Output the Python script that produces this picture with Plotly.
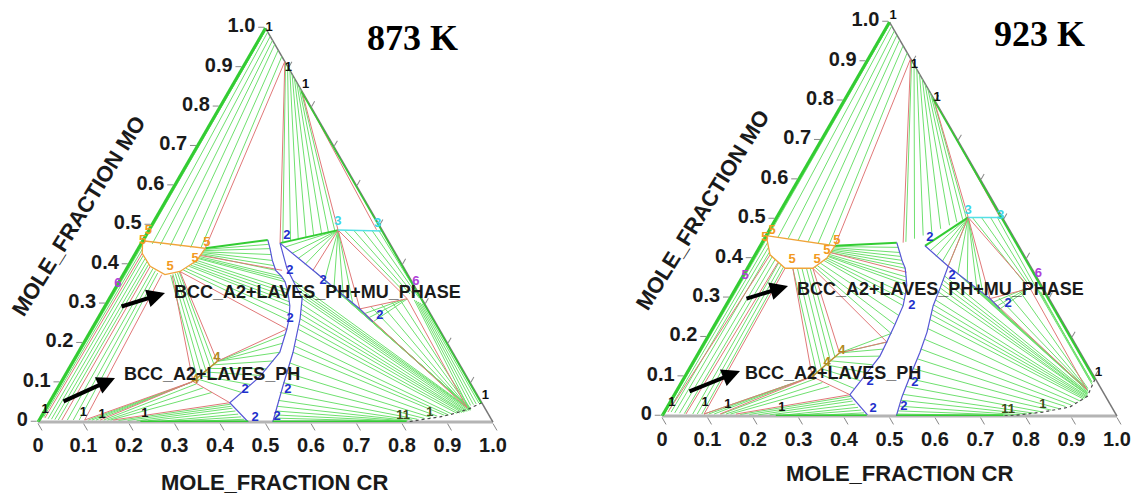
import plotly.graph_objects as go

# ---------------- axis ticks ----------------
MO_TICKS = [0.0, 0.1, 0.2, 0.3, 0.4, 0.5, 0.6, 0.7, 0.8, 0.9, 1.0]
MO_TICK_TEXT = ['0', '0.1', '0.2', '0.3', '0.4', '0.5', '0.6', '0.7', '0.8', '0.9', '1.0']
CR_TICKS = [0.0, 0.1, 0.2, 0.3, 0.4, 0.5, 0.6, 0.7, 0.8, 0.9, 1.0]
CR_TICK_TEXT = ['0', '0.1', '0.2', '0.3', '0.4', '0.5', '0.6', '0.7', '0.8', '0.9', '1.0']

# ---------------- 873 K : segments (cr1, mo1, cr2, mo2) ----------------
T873_EDGE = [(0.0, 0.0, 0.0, 1.0), (0.16, 0.84, 0.951, 0.049),
             (0.225, 0.0, 0.462, 0.0), (0.516, 0.0, 0.81, 0.0)]
T873_THICK = [(0.147, 0.441, 0.274, 0.462), (0.305, 0.454, 0.416, 0.487)]
T873_TIE_APEX_MU = [(0.003, 0.997, 0.004, 0.455), (0.010, 0.990, 0.025, 0.452),
                    (0.021, 0.979, 0.044, 0.449), (0.031, 0.969, 0.067, 0.447),
                    (0.041, 0.959, 0.090, 0.445), (0.056, 0.944, 0.114, 0.443),
                    (0.072, 0.928, 0.137, 0.442)]
T873_TIE_B_SIG = [(0.088, 0.912, 0.310, 0.456), (0.097, 0.903, 0.325, 0.460),
                  (0.107, 0.893, 0.340, 0.464), (0.117, 0.883, 0.355, 0.468),
                  (0.127, 0.873, 0.370, 0.472), (0.137, 0.863, 0.385, 0.477),
                  (0.147, 0.853, 0.398, 0.481), (0.155, 0.845, 0.410, 0.485)]
T873_TIE_MU_SIG = [(0.147, 0.438, 0.282, 0.451), (0.147, 0.435, 0.290, 0.440),
                   (0.146, 0.432, 0.300, 0.425), (0.146, 0.430, 0.310, 0.410),
                   (0.146, 0.427, 0.320, 0.397), (0.145, 0.425, 0.330, 0.385),
                   (0.145, 0.420, 0.350, 0.370), (0.144, 0.417, 0.358, 0.363),
                   (0.144, 0.415, 0.365, 0.356), (0.144, 0.410, 0.380, 0.336),
                   (0.142, 0.406, 0.387, 0.326), (0.140, 0.402, 0.393, 0.316),
                   (0.137, 0.398, 0.400, 0.305), (0.135, 0.395, 0.406, 0.295),
                   (0.130, 0.390, 0.415, 0.275), (0.126, 0.386, 0.422, 0.258)]
T873_TIE_CHI_DIAG = [(0.416, 0.487, 0.321, 0.444), (0.416, 0.487, 0.344, 0.428),
                     (0.416, 0.487, 0.364, 0.415), (0.416, 0.487, 0.387, 0.400),
                     (0.416, 0.487, 0.450, 0.360), (0.416, 0.487, 0.480, 0.341),
                     (0.416, 0.487, 0.510, 0.322), (0.416, 0.487, 0.540, 0.303)]
T873_TIE_CHI_EDGE = [(0.430, 0.487, 0.640, 0.330), (0.450, 0.487, 0.655, 0.325),
                     (0.470, 0.487, 0.668, 0.320), (0.490, 0.487, 0.680, 0.315),
                     (0.505, 0.487, 0.690, 0.308)]
T873_TIE_DIAG_P6 = [(0.580, 0.275, 0.645, 0.310), (0.595, 0.265, 0.650, 0.311),
                    (0.609, 0.254, 0.655, 0.312)]
T873_TIE_EDGE_BAND = [(0.672, 0.310, 0.925, 0.040), (0.677, 0.308, 0.930, 0.042),
                      (0.683, 0.305, 0.935, 0.044), (0.688, 0.303, 0.940, 0.046),
                      (0.694, 0.300, 0.945, 0.048)]
T873_TIE_D1P6_CR = [(0.585, 0.293, 0.926, 0.037), (0.605, 0.299, 0.927, 0.037),
                    (0.625, 0.305, 0.928, 0.038), (0.642, 0.309, 0.929, 0.038)]
T873_TIE_SIG_CR = [(0.540, 0.302, 0.928, 0.036), (0.525, 0.312, 0.929, 0.036),
                   (0.510, 0.322, 0.930, 0.036), (0.495, 0.331, 0.931, 0.035),
                   (0.480, 0.341, 0.932, 0.035), (0.465, 0.351, 0.933, 0.034),
                   (0.450, 0.360, 0.934, 0.034), (0.435, 0.370, 0.934, 0.033),
                   (0.420, 0.380, 0.935, 0.033), (0.380, 0.360, 0.935, 0.032),
                   (0.390, 0.348, 0.935, 0.031), (0.400, 0.337, 0.935, 0.030),
                   (0.412, 0.325, 0.933, 0.029), (0.424, 0.313, 0.930, 0.028),
                   (0.430, 0.299, 0.928, 0.027), (0.435, 0.286, 0.925, 0.026),
                   (0.440, 0.274, 0.923, 0.025), (0.445, 0.262, 0.920, 0.024),
                   (0.450, 0.248, 0.915, 0.023), (0.455, 0.235, 0.910, 0.022),
                   (0.462, 0.210, 0.900, 0.020), (0.467, 0.193, 0.893, 0.018),
                   (0.472, 0.177, 0.885, 0.017), (0.478, 0.150, 0.870, 0.015),
                   (0.484, 0.125, 0.857, 0.012), (0.489, 0.100, 0.845, 0.009),
                   (0.494, 0.075, 0.830, 0.007), (0.500, 0.055, 0.820, 0.005),
                   (0.505, 0.040, 0.810, 0.004), (0.509, 0.028, 0.805, 0.003),
                   (0.512, 0.018, 0.800, 0.002), (0.514, 0.010, 0.800, 0.001)]
T873_TIE_MU_FE = [(0.005, 0.450, 0.003, 0.015), (0.010, 0.440, 0.006, 0.012),
                  (0.020, 0.423, 0.018, 0.008), (0.028, 0.415, 0.026, 0.007),
                  (0.036, 0.407, 0.034, 0.006), (0.043, 0.400, 0.042, 0.005),
                  (0.058, 0.390, 0.062, 0.005), (0.066, 0.384, 0.075, 0.005),
                  (0.074, 0.378, 0.088, 0.005)]
T873_TIE_MU_LAV = [(0.105, 0.373, 0.294, 0.112), (0.109, 0.375, 0.299, 0.121),
                   (0.113, 0.377, 0.304, 0.130), (0.117, 0.379, 0.309, 0.139),
                   (0.120, 0.381, 0.313, 0.147)]
T873_TIE_LAV_SIG = [(0.317, 0.154, 0.432, 0.222), (0.317, 0.154, 0.438, 0.200),
                    (0.317, 0.154, 0.443, 0.177), (0.312, 0.145, 0.440, 0.155),
                    (0.307, 0.136, 0.436, 0.135), (0.302, 0.127, 0.432, 0.118),
                    (0.297, 0.118, 0.420, 0.095), (0.293, 0.110, 0.410, 0.075)]
T873_TIE_FE_LAV = [(0.108, 0.005, 0.287, 0.101), (0.116, 0.005, 0.287, 0.101),
                   (0.125, 0.005, 0.288, 0.102), (0.142, 0.005, 0.300, 0.097),
                   (0.150, 0.005, 0.320, 0.087), (0.157, 0.005, 0.345, 0.075)]
T873_TIE_FE_SIG = [(0.175, 0.004, 0.400, 0.045), (0.195, 0.004, 0.405, 0.040),
                   (0.215, 0.003, 0.410, 0.035), (0.240, 0.003, 0.420, 0.028),
                   (0.270, 0.002, 0.430, 0.020), (0.300, 0.002, 0.440, 0.013),
                   (0.330, 0.001, 0.450, 0.007), (0.360, 0.001, 0.458, 0.002)]
T873_RED = [(0.085, 0.915, 0.147, 0.441), (0.085, 0.915, 0.305, 0.454),
            (0.160, 0.840, 0.416, 0.487), (0.160, 0.840, 0.500, 0.488),
            (0.416, 0.487, 0.412, 0.385), (0.416, 0.487, 0.564, 0.287),
            (0.416, 0.487, 0.655, 0.313), (0.564, 0.287, 0.655, 0.313),
            (0.564, 0.287, 0.925, 0.036), (0.655, 0.313, 0.925, 0.036),
            (0.144, 0.423, 0.344, 0.385), (0.015, 0.428, 0.010, 0.010),
            (0.049, 0.395, 0.050, 0.005), (0.085, 0.374, 0.100, 0.005),
            (0.109, 0.372, 0.289, 0.103), (0.100, 0.005, 0.289, 0.103),
            (0.134, 0.005, 0.289, 0.103), (0.163, 0.005, 0.397, 0.049),
            (0.289, 0.103, 0.397, 0.049), (0.121, 0.382, 0.317, 0.154),
            (0.121, 0.382, 0.429, 0.236), (0.317, 0.154, 0.429, 0.236)]
T873_LAVES = [(0.317, 0.154, 0.289, 0.103)]
# polylines (cr, mo)
T873_MU = [(0.0, 0.46), (0.147, 0.441), (0.144, 0.41), (0.121, 0.382), (0.092, 0.374),
           (0.049, 0.395), (0.015, 0.428), (0.0, 0.46)]
T873_SIG_LEFT = [(0.274, 0.462), (0.29, 0.44), (0.31, 0.41), (0.33, 0.385), (0.35, 0.37),
                 (0.365, 0.356), (0.38, 0.336), (0.393, 0.316), (0.406, 0.295), (0.415, 0.275),
                 (0.422, 0.258), (0.429, 0.236), (0.443, 0.177), (0.43, 0.115), (0.397, 0.049),
                 (0.462, 0.0)]
T873_SIG_RIGHT = [(0.305, 0.454), (0.352, 0.39), (0.424, 0.313), (0.445, 0.262),
                  (0.472, 0.177), (0.493, 0.09), (0.516, 0.0)]
T873_DIAG = [(0.305, 0.454), (0.412, 0.385), (0.564, 0.287), (0.609, 0.254)]
T873_CHI = [(0.416, 0.487), (0.515, 0.485)]
T873_CRBCC = [(0.951, 0.049), (0.93, 0.033), (0.90, 0.02), (0.877, 0.013), (0.84, 0.006), (0.81, 0.0)]
# labels (cr, mo, text, colour-key, position)
T873_LABELS = [
    (0.0, 1.0, '1', 'k', 'middle right'), (0.085, 0.915, '1', 'k', 'bottom right'),
    (0.16, 0.84, '1', 'k', 'top right'), (0.0, 0.031, '1', 'k', 'middle center'),
    (0.088, 0.023, '1', 'k', 'middle center'), (0.132, 0.018, '1', 'k', 'middle center'),
    (0.225, 0.02, '1', 'k', 'middle center'), (0.795, 0.015, '11', 'd', 'middle center'),
    (0.85, 0.023, '1', 'd', 'middle center'), (0.951, 0.049, '1', 'k', 'top right'),
    (0.0, 0.485, '5', 'o', 'middle center'), (0.0, 0.46, '5', 'o', 'middle center'),
    (0.144, 0.454, '5', 'o', 'middle center'), (0.093, 0.395, '5', 'o', 'middle center'),
    (0.138, 0.415, '5', 'o', 'middle center'),
    (0.311, 0.472, '2', 'b', 'middle center'), (0.361, 0.385, '2', 'b', 'middle center'),
    (0.447, 0.359, '2', 'b', 'middle center'), (0.423, 0.262, '2', 'b', 'middle center'),
    (0.414, 0.082, '2', 'b', 'middle center'), (0.508, 0.082, '2', 'b', 'middle center'),
    (0.472, 0.010, '2', 'b', 'middle center'), (0.519, 0.013, '2', 'b', 'middle center'),
    (0.617, 0.269, '2', 'b', 'middle center'),
    (0.405, 0.508, '3', 'c', 'middle center'), (0.495, 0.503, '3', 'c', 'middle center'),
    (0.311, 0.164, '4', 'y', 'middle center'), (0.292, 0.108, '4', 'y', 'middle center'),
    (0.0, 0.351, '6', 'p', 'middle center'), (0.645, 0.355, '6', 'p', 'middle right'),
]

# ---------------- 923 K ----------------
T923_EDGE = [(0.0, 0.0, 0.0, 1.0), (0.193, 0.807, 0.905, 0.093),
             (0.25, 0.0, 0.45, 0.0), (0.515, 0.0, 0.75, 0.0)]
T923_THICK = [(0.164, 0.432, 0.296, 0.440), (0.362, 0.432, 0.421, 0.504)]
T923_TIE_APEX_MU = [(0.003, 0.997, 0.005, 0.457), (0.010, 0.990, 0.028, 0.453),
                    (0.022, 0.978, 0.052, 0.450), (0.033, 0.967, 0.076, 0.446),
                    (0.045, 0.955, 0.100, 0.442), (0.060, 0.940, 0.124, 0.438),
                    (0.078, 0.922, 0.150, 0.434)]
T923_TIE_B_SIG = [(0.097, 0.903, 0.315, 0.442), (0.108, 0.892, 0.330, 0.450),
                  (0.120, 0.880, 0.345, 0.458), (0.132, 0.868, 0.360, 0.466),
                  (0.144, 0.856, 0.375, 0.475), (0.156, 0.844, 0.390, 0.484),
                  (0.168, 0.832, 0.402, 0.492), (0.180, 0.820, 0.412, 0.498),
                  (0.190, 0.810, 0.418, 0.502)]
T923_TIE_MU_SIG = [(0.164, 0.430, 0.305, 0.428), (0.164, 0.427, 0.315, 0.415),
                   (0.164, 0.424, 0.322, 0.405), (0.163, 0.421, 0.330, 0.395),
                   (0.163, 0.418, 0.338, 0.385), (0.163, 0.415, 0.347, 0.375),
                   (0.163, 0.410, 0.360, 0.353), (0.162, 0.407, 0.366, 0.342),
                   (0.162, 0.405, 0.372, 0.332), (0.162, 0.401, 0.380, 0.310),
                   (0.160, 0.398, 0.385, 0.295), (0.158, 0.395, 0.390, 0.280),
                   (0.154, 0.388, 0.393, 0.255), (0.150, 0.382, 0.396, 0.232),
                   (0.147, 0.378, 0.398, 0.210)]
T923_TIE_CHI_DIAG = [(0.421, 0.504, 0.380, 0.420), (0.421, 0.504, 0.400, 0.405),
                     (0.421, 0.504, 0.420, 0.392), (0.421, 0.504, 0.439, 0.380),
                     (0.421, 0.504, 0.470, 0.360), (0.421, 0.504, 0.500, 0.342),
                     (0.421, 0.504, 0.530, 0.324), (0.421, 0.504, 0.550, 0.311)]
T923_TIE_CHI_EDGE = [(0.430, 0.504, 0.625, 0.340), (0.450, 0.504, 0.635, 0.337),
                     (0.470, 0.504, 0.645, 0.333), (0.485, 0.504, 0.655, 0.330)]
T923_TIE_DIAG_P6 = [(0.585, 0.290, 0.635, 0.322), (0.598, 0.280, 0.640, 0.323),
                    (0.607, 0.272, 0.645, 0.324)]
T923_TIE_EDGE_BAND = [(0.660, 0.325, 0.895, 0.090), (0.665, 0.322, 0.900, 0.088),
                      (0.670, 0.318, 0.903, 0.085), (0.675, 0.315, 0.905, 0.080)]
T923_TIE_D1P6_CR = [(0.590, 0.300, 0.900, 0.068), (0.610, 0.306, 0.900, 0.069),
                    (0.630, 0.315, 0.901, 0.070)]
T923_TIE_SIG_CR = [(0.550, 0.311, 0.900, 0.067), (0.535, 0.320, 0.901, 0.066),
                   (0.520, 0.330, 0.902, 0.066), (0.505, 0.339, 0.903, 0.065),
                   (0.490, 0.348, 0.904, 0.065), (0.478, 0.356, 0.904, 0.064),
                   (0.465, 0.364, 0.905, 0.063), (0.444, 0.355, 0.906, 0.060),
                   (0.445, 0.345, 0.906, 0.058), (0.447, 0.335, 0.907, 0.057),
                   (0.449, 0.325, 0.907, 0.055), (0.450, 0.315, 0.908, 0.054),
                   (0.453, 0.295, 0.909, 0.051), (0.456, 0.282, 0.909, 0.049),
                   (0.458, 0.270, 0.908, 0.047), (0.462, 0.258, 0.907, 0.045),
                   (0.466, 0.245, 0.905, 0.043), (0.473, 0.222, 0.900, 0.038),
                   (0.479, 0.195, 0.893, 0.033), (0.484, 0.170, 0.885, 0.028),
                   (0.489, 0.145, 0.875, 0.024), (0.493, 0.120, 0.862, 0.019),
                   (0.496, 0.095, 0.848, 0.015), (0.499, 0.075, 0.832, 0.010),
                   (0.502, 0.055, 0.815, 0.007), (0.505, 0.040, 0.800, 0.005),
                   (0.509, 0.025, 0.785, 0.003), (0.512, 0.013, 0.770, 0.002),
                   (0.514, 0.005, 0.755, 0.001)]
T923_TIE_MU_FE = [(0.005, 0.451, 0.003, 0.020), (0.012, 0.440, 0.008, 0.015),
                  (0.020, 0.428, 0.015, 0.010), (0.028, 0.416, 0.024, 0.008),
                  (0.040, 0.405, 0.035, 0.007), (0.050, 0.398, 0.046, 0.006),
                  (0.062, 0.389, 0.065, 0.005), (0.070, 0.384, 0.075, 0.005),
                  (0.078, 0.378, 0.085, 0.005)]
T923_TIE_MU_LAV = [(0.100, 0.375, 0.285, 0.110), (0.110, 0.375, 0.290, 0.120),
                   (0.120, 0.375, 0.295, 0.130), (0.130, 0.375, 0.300, 0.140),
                   (0.138, 0.375, 0.305, 0.150)]
T923_TIE_LAV_SIG = [(0.310, 0.160, 0.400, 0.210), (0.310, 0.160, 0.402, 0.188),
                    (0.310, 0.160, 0.403, 0.170), (0.305, 0.150, 0.403, 0.152),
                    (0.300, 0.140, 0.398, 0.130), (0.295, 0.130, 0.394, 0.110),
                    (0.290, 0.120, 0.390, 0.090), (0.285, 0.110, 0.387, 0.070)]
T923_TIE_FE_LAV = [(0.090, 0.005, 0.279, 0.100), (0.100, 0.005, 0.279, 0.100),
                   (0.112, 0.005, 0.280, 0.101), (0.128, 0.005, 0.290, 0.095),
                   (0.138, 0.005, 0.310, 0.085), (0.148, 0.005, 0.330, 0.075)]
T923_TIE_FE_SIG = [(0.170, 0.004, 0.390, 0.050), (0.190, 0.004, 0.395, 0.044),
                   (0.210, 0.003, 0.400, 0.038), (0.235, 0.003, 0.410, 0.030),
                   (0.265, 0.002, 0.420, 0.022), (0.295, 0.002, 0.430, 0.015),
                   (0.330, 0.001, 0.440, 0.008), (0.360, 0.001, 0.447, 0.003)]
T923_RED = [(0.093, 0.907, 0.164, 0.432), (0.093, 0.907, 0.310, 0.440),
            (0.193, 0.807, 0.421, 0.504), (0.193, 0.807, 0.490, 0.505),
            (0.421, 0.504, 0.439, 0.380), (0.421, 0.504, 0.572, 0.298),
            (0.421, 0.504, 0.647, 0.324), (0.572, 0.298, 0.647, 0.324),
            (0.572, 0.298, 0.900, 0.067), (0.647, 0.324, 0.900, 0.067),
            (0.162, 0.415, 0.355, 0.365), (0.033, 0.409, 0.008, 0.010),
            (0.060, 0.390, 0.050, 0.005), (0.083, 0.375, 0.090, 0.005),
            (0.100, 0.375, 0.280, 0.100), (0.090, 0.005, 0.280, 0.100),
            (0.125, 0.005, 0.280, 0.100), (0.160, 0.005, 0.386, 0.054),
            (0.280, 0.100, 0.386, 0.054), (0.144, 0.375, 0.310, 0.160),
            (0.144, 0.375, 0.400, 0.188), (0.310, 0.160, 0.400, 0.188)]
T923_LAVES = [(0.310, 0.160, 0.280, 0.100)]
T923_MU = [(0.0, 0.458), (0.164, 0.432), (0.162, 0.401), (0.144, 0.375), (0.083, 0.375),
           (0.033, 0.409), (0.0, 0.458)]
T923_SIG_LEFT = [(0.296, 0.44), (0.315, 0.415), (0.33, 0.395), (0.347, 0.375), (0.36, 0.353),
                 (0.372, 0.332), (0.38, 0.31), (0.39, 0.28), (0.393, 0.255), (0.396, 0.232),
                 (0.398, 0.21), (0.40, 0.188), (0.403, 0.152), (0.386, 0.054), (0.45, 0.003)]
T923_SIG_RIGHT = [(0.439, 0.38), (0.449, 0.324), (0.456, 0.28), (0.476, 0.213), (0.486, 0.162),
                  (0.495, 0.10), (0.503, 0.049), (0.515, 0.0)]
T923_DIAG = [(0.362, 0.432), (0.439, 0.38), (0.572, 0.298), (0.607, 0.272)]
T923_CHI = [(0.421, 0.504), (0.496, 0.504)]
T923_CRBCC = [(0.905, 0.093), (0.91, 0.05), (0.885, 0.023), (0.832, 0.01), (0.785, 0.003), (0.75, 0.0)]
T923_LABELS = [
    (0.0, 1.0, '1', 'k', 'top right'), (0.093, 0.907, '1', 'k', 'bottom right'),
    (0.193, 0.807, '1', 'k', 'middle right'), (0.005, 0.033, '1', 'k', 'middle center'),
    (0.078, 0.033, '1', 'k', 'middle center'), (0.131, 0.028, '1', 'k', 'middle center'),
    (0.253, 0.021, '1', 'k', 'middle center'), (0.753, 0.015, '11', 'd', 'middle center'),
    (0.823, 0.028, '1', 'd', 'middle center'), (0.905, 0.093, '1', 'k', 'top right'),
    (0.007, 0.47, '5', 'o', 'middle center'), (0.0, 0.452, '5', 'o', 'middle center'),
    (0.162, 0.445, '5', 'o', 'middle center'), (0.088, 0.396, '5', 'o', 'middle center'),
    (0.143, 0.396, '5', 'o', 'middle center'), (0.153, 0.419, '5', 'o', 'middle center'),
    (0.005, 0.355, '5', 'p', 'middle center'),
    (0.363, 0.452, '2', 'b', 'middle center'), (0.459, 0.357, '2', 'b', 'middle center'),
    (0.409, 0.280, '2', 'b', 'middle center'), (0.414, 0.087, '2', 'b', 'middle center'),
    (0.513, 0.085, '2', 'b', 'middle center'), (0.455, 0.018, '2', 'b', 'middle center'),
    (0.520, 0.023, '2', 'b', 'middle center'), (0.618, 0.285, '2', 'b', 'middle center'),
    (0.412, 0.522, '3', 'c', 'middle center'), (0.49, 0.508, '3', 'c', 'middle center'),
    (0.313, 0.165, '4', 'y', 'middle center'), (0.295, 0.136, '4', 'y', 'middle center'),
    (0.280, 0.100, '4', 'y', 'middle center'),
    (0.638, 0.362, '6', 'p', 'middle right'),
]

# ---------------- styling ----------------
GREEN_TIE = '#6fe06f'
GREEN_EDGE = '#33cc33'
RED = '#e07878'
BLUE = '#5656d6'
ORANGE = '#f0a43a'
CYAN = '#55e0e6'
OLIVE = '#b8922e'
DARK = '#4a4a4a'
LABEL_COLORS = {'k': '#111111', 'd': '#3a4a1a', 'o': '#f29a1e', 'b': '#2230cc',
                'c': '#3cd6e6', 'y': '#b08a20', 'p': '#b040d8'}
FONT = 'Liberation Sans, Arial, sans-serif'
TICKFONT = dict(family=FONT, size=20, color='#1a1a1a', weight='bold')


def seg_abc(segs):
    a, b, c = [], [], []
    for cr1, mo1, cr2, mo2 in segs:
        a += [mo1, mo2, None]
        c += [cr1, cr2, None]
        b += [max(0.0, 1 - cr1 - mo1), max(0.0, 1 - cr2 - mo2), None]
    return a, b, c


def pts_abc(pts):
    a = [p[1] for p in pts]
    c = [p[0] for p in pts]
    b = [max(0.0, 1 - p[0] - p[1]) for p in pts]
    return a, b, c


def add_segs(fig, segs, sub, color, width):
    a, b, c = seg_abc(segs)
    fig.add_trace(go.Scatterternary(a=a, b=b, c=c, mode='lines', subplot=sub,
                                    line=dict(color=color, width=width),
                                    hoverinfo='skip', connectgaps=False))


def add_poly(fig, pts, sub, color, width, dash='solid'):
    a, b, c = pts_abc(pts)
    fig.add_trace(go.Scatterternary(a=a, b=b, c=c, mode='lines', subplot=sub,
                                    line=dict(color=color, width=width, dash=dash),
                                    hoverinfo='skip'))


def add_labels(fig, labels, sub):
    fig.add_trace(go.Scatterternary(
        a=[l[1] for l in labels], c=[l[0] for l in labels],
        b=[max(0.0, 1 - l[0] - l[1]) for l in labels],
        text=[l[2] for l in labels], mode='text', subplot=sub,
        textposition=[l[4] for l in labels], cliponaxis=False,
        textfont=dict(family=FONT, size=13, weight='bold',
                      color=[LABEL_COLORS[l[3]] for l in labels]),
        hoverinfo='skip'))


def add_cr_ticklabels(fig, sub):
    # Cr tick labels written under the bottom (Fe-Cr) edge, where Mo = 0
    fig.add_trace(go.Scatterternary(
        a=[0.0] * len(CR_TICKS), c=CR_TICKS, b=[round(1 - v, 2) for v in CR_TICKS],
        text=CR_TICK_TEXT, mode='markers+text', subplot=sub,
        marker=dict(size=22, color='rgba(0,0,0,0)'),
        textposition='bottom center', cliponaxis=False,
        textfont=TICKFONT, hoverinfo='skip'))


def draw(fig, sub, d):
    for key in ['TIE_APEX_MU', 'TIE_B_SIG', 'TIE_MU_SIG', 'TIE_CHI_DIAG', 'TIE_CHI_EDGE',
                'TIE_DIAG_P6', 'TIE_EDGE_BAND', 'TIE_D1P6_CR', 'TIE_SIG_CR', 'TIE_MU_FE',
                'TIE_MU_LAV', 'TIE_LAV_SIG', 'TIE_FE_LAV', 'TIE_FE_SIG']:
        add_segs(fig, d[key], sub, GREEN_TIE, 1)
    add_segs(fig, d['THICK'], sub, GREEN_EDGE, 2)
    add_segs(fig, d['RED'], sub, RED, 1)
    add_segs(fig, d['LAVES'], sub, OLIVE, 1.5)
    add_poly(fig, d['SIG_LEFT'], sub, BLUE, 1.2)
    add_poly(fig, d['SIG_RIGHT'], sub, BLUE, 1.2)
    add_poly(fig, d['DIAG'], sub, BLUE, 1.2)
    add_poly(fig, d['MU'], sub, ORANGE, 1.3)
    add_poly(fig, d['CHI'], sub, CYAN, 1.5)
    add_poly(fig, d['CRBCC'], sub, DARK, 1.2, 'dot')
    add_segs(fig, d['EDGE'], sub, GREEN_EDGE, 3)
    add_labels(fig, d['LABELS'], sub)
    add_cr_ticklabels(fig, sub)


fig = go.Figure()
g = globals()
for prefix, sub in [('T873_', 'ternary'), ('T923_', 'ternary2')]:
    data = {k[len(prefix):]: v for k, v in g.items() if k.startswith(prefix)}
    draw(fig, sub, data)


def tern_layout(xd, yd):
    return dict(
        domain=dict(x=xd, y=yd), sum=1, bgcolor='white',
        aaxis=dict(title=dict(text=''), tickmode='array', tickvals=MO_TICKS, ticktext=MO_TICK_TEXT,
                   showgrid=False, ticks='outside', ticklen=6, tickcolor='#888888',
                   showline=True, linecolor=GREEN_EDGE, linewidth=3, tickfont=TICKFONT,
                   layer='below traces'),
        baxis=dict(title=dict(text=''), tickmode='array',
                   tickvals=[round(1 - v, 2) for v in CR_TICKS], showticklabels=False,
                   showgrid=False, ticks='outside', ticklen=8, tickcolor='#888888',
                   showline=True, linecolor='#b4b4b4', linewidth=3,
                   layer='below traces'),
        caxis=dict(title=dict(text=''), tickmode='array', tickvals=MO_TICKS[1:-1],
                   showticklabels=False, showgrid=False, ticks='outside', ticklen=6,
                   tickcolor='#888888', showline=True, linecolor='#777777', linewidth=1.5,
                   layer='below traces'),
    )


# The page body keeps its default 8 px margin, so the figure is drawn 8 px in
# from the window's top-left corner; screen positions are converted below.
OFF = 8
W, H = 1139 - OFF, 494 - OFF
ann = []
TITLE_FONT = dict(family=FONT, size=22, color='#1a1a1a', weight='bold')
LBL_FONT = dict(family=FONT, size=18, color='#1a1a1a', weight='bold')
TEMP_FONT = dict(family='Liberation Serif, Times New Roman, serif', size=36, color='black', weight='bold')


def px(x, y):
    return (x - OFF) / W, 1 - (y - OFF) / H


def dom(x0, x1, ybot):
    xa, _ = px(x0, 0)
    xb, _ = px(x1, 0)
    _, ya = px(0, ybot)
    return [xa, xb], [ya, ya + 394 / H]


for temp, tpos, crpos, mopos, l1pos, l2pos, a1, a2 in [
    ('873 K', (412, 38), (274, 482), (78, 216), (172, 292), (122, 374),
     ((165, 293), -45, 14), ((115, 378), -53, 24)),
    ('923 K', (1039, 34), (899, 473), (702, 210), (795, 289), (743, 373),
     ((788, 286), -43, 13), ((740, 371), -52, 21)),
]:
    x, y = px(*tpos)
    ann.append(dict(x=x, y=y, xref='paper', yref='paper', text=temp, showarrow=False, font=TEMP_FONT,
                    xanchor='center', yanchor='middle'))
    x, y = px(*crpos)
    ann.append(dict(x=x, y=y, xref='paper', yref='paper', text='MOLE_FRACTION CR', showarrow=False,
                    font=TITLE_FONT, xanchor='center', yanchor='middle'))
    x, y = px(*mopos)
    ann.append(dict(x=x, y=y, xref='paper', yref='paper', text='MOLE_FRACTION MO', showarrow=False,
                    font=TITLE_FONT, textangle=-58, xanchor='center', yanchor='middle'))
    x, y = px(*l1pos)
    ann.append(dict(x=x, y=y, xref='paper', yref='paper', text='BCC_A2+LAVES_PH+MU_PHASE', showarrow=False,
                    font=LBL_FONT, xanchor='left', yanchor='middle'))
    x, y = px(*l2pos)
    ann.append(dict(x=x, y=y, xref='paper', yref='paper', text='BCC_A2+LAVES_PH', showarrow=False,
                    font=LBL_FONT, xanchor='left', yanchor='middle'))
    for (hp, ax, ay) in (a1, a2):
        x, y = px(*hp)
        ann.append(dict(x=x, y=y, xref='paper', yref='paper', ax=ax, ay=ay, text='', showarrow=True,
                        arrowhead=2, arrowsize=0.9, arrowwidth=4, arrowcolor='black'))

dx1, dy1 = dom(38, 493, 422)
dx2, dy2 = dom(662, 1117, 416)
fig.update_layout(
    width=W, height=H, margin=dict(l=0, r=0, t=0, b=0),
    paper_bgcolor='white', plot_bgcolor='white', showlegend=False,
    ternary=tern_layout(dx1, dy1),
    ternary2=tern_layout(dx2, dy2),
    annotations=ann,
)
fig.write_html('out.html')
